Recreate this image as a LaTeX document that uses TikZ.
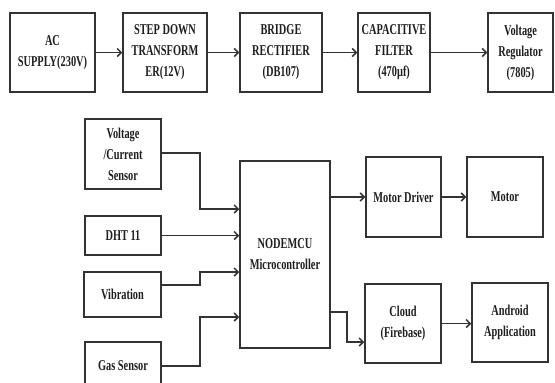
\documentclass[tikz,border=0pt]{standalone}
\usepackage{fontspec}
\setmainfont{Liberation Serif}[FakeStretch=0.69]
\usetikzlibrary{arrows.meta}
\definecolor{ln}{HTML}{333333}
\definecolor{tx}{HTML}{1E1E1E}
\begin{document}
\begin{tikzpicture}[x=1pt,y=-1pt,
  blk/.style={draw=ln, line width=1.5pt, inner sep=1pt, align=center,
    font=\bfseries\fontsize{15}{21}\selectfont, text=tx},
  arr/.style={draw=ln, line width=1.5pt, -{Straight Barb[length=4pt,width=8pt]}}]
\useasboundingbox (0,0) rectangle (555,383);
\clip (0,0) rectangle (555,383);
% top row
\node[blk, minimum width=85pt, minimum height=79pt] (ac) at (52.5,52.5) {AC\\SUPPLY(230V)};
\node[blk, minimum width=84pt, minimum height=79pt] (sd) at (165,52.5) {STEP DOWN\\TRANSFORM\\ER(12V)};
\node[blk, minimum width=82pt, minimum height=79pt] (br) at (281,52.5) {BRIDGE\\RECTIFIER\\(DB107)};
\node[blk, minimum width=72pt, minimum height=79pt] (cf) at (394,52.5) {CAPACITIVE\\FILTER\\(470µf)};
\node[blk, minimum width=65pt, minimum height=79pt] (vr) at (520.5,52.5) {Voltage\\Regulator\\(7805)};
\draw[arr] (ac) -- (sd);
\draw[arr] (sd) -- (br);
\draw[arr] (br) -- (cf);
\draw[arr] (cf) -- (vr);
% sensors
\node[blk, minimum width=76pt, minimum height=70pt] (vc) at (123,154) {Voltage\\/Current\\Sensor};
\node[blk, minimum width=76pt, minimum height=39pt] (dht) at (123,235.5) {DHT 11};
\node[blk, minimum width=77pt, minimum height=45pt] (vib) at (122.5,294.5) {Vibration};
\node[blk, minimum width=76pt, minimum height=48pt] (gas) at (123,366) {Gas Sensor};
% controller
\node[blk, minimum width=90pt, minimum height=187pt] (mcu) at (285,254.5) {NODEMCU\\Microcontroller};
% outputs
\node[blk, minimum width=75pt, minimum height=80pt] (md) at (403.5,197) {Motor Driver};
\node[blk, minimum width=76pt, minimum height=80pt] (mot) at (505,197) {Motor};
\node[blk, minimum width=76pt, minimum height=79pt] (cl) at (403,323.5) {Cloud\\(Firebase)};
\node[blk, minimum width=76pt, minimum height=79pt] (and) at (510,322.5) {Android\\Application};
% connectors
\draw[arr] (vc.east |- 0,153) -| (200,209) -- (mcu.west |- 0,209);
\draw[arr] (dht.east) -- (mcu.west |- dht.east);
\draw[arr] (vib.east |- 0,285) -| (200,272) -- (mcu.west |- 0,272);
\draw[arr] (gas.east) -| (200,317) -- (mcu.west |- 0,317);
\draw[arr] (mcu.east |- md.west) -- (md.west);
\draw[arr] (md) -- (mot);
\draw[arr] (mcu.east |- 0,312) -| (347,342) -- (cl.west |- 0,342);
\draw[arr] (cl.east) -- (and.west |- cl.east);
\end{tikzpicture}
\end{document}
